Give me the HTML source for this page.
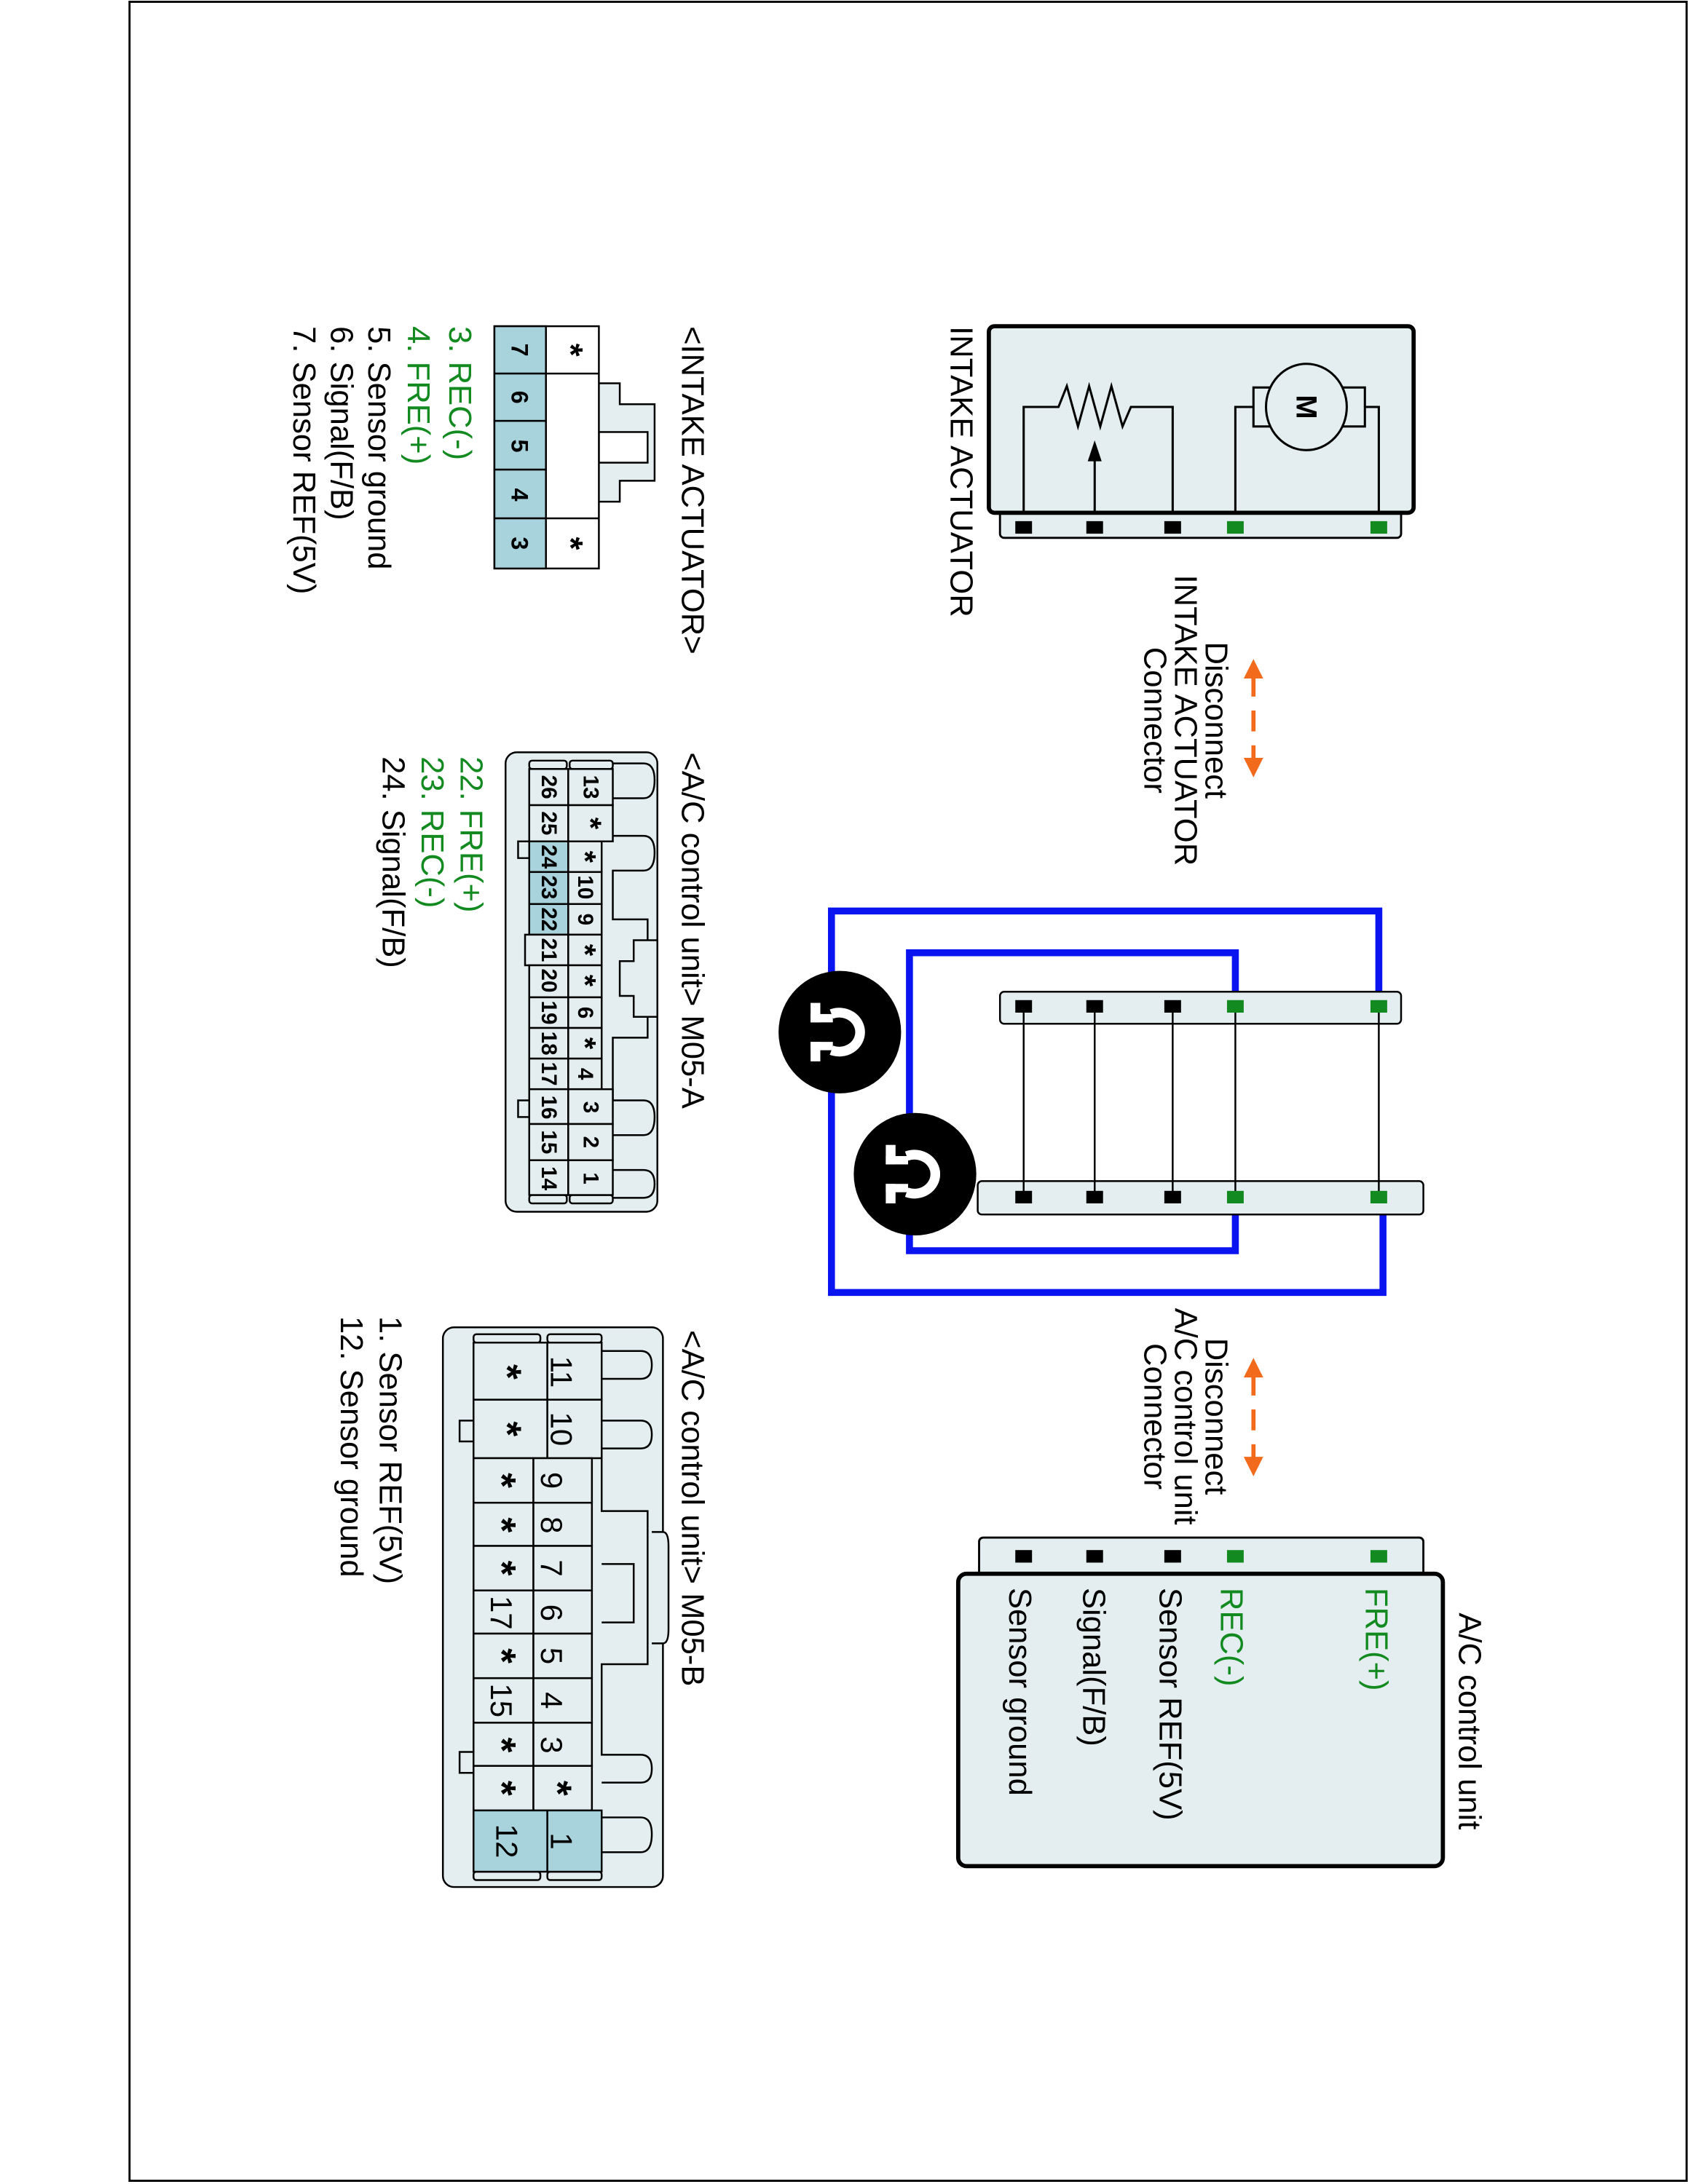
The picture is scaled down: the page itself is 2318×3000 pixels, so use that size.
<!DOCTYPE html>
<html><head><meta charset="utf-8"><style>
html,body{margin:0;padding:0;background:#fff;}
svg{display:block;}
text{font-family:"Liberation Sans",sans-serif;}
</style></head><body>
<svg width="2318" height="3000" viewBox="0 0 1212 1568" xmlns="http://www.w3.org/2000/svg">
<rect x="0" y="0" width="1212" height="1568" fill="#fff"/>
<rect x="93" y="1" width="1118" height="1565" fill="none" stroke="#000" stroke-width="1.5"/>

<!-- INTAKE ACTUATOR box -->
<rect x="718" y="366" width="288" height="20" rx="3" fill="#e4eef0" stroke="#000" stroke-width="1.5"/>
<rect x="710" y="234" width="305" height="134" rx="4" fill="#e4eef0" stroke="#000" stroke-width="3"/>
<g fill="none" stroke="#000" stroke-width="1.6">
<polyline points="735,368 735,292 760,292 766,277 774,306 782,277 790,306 798,277 806,306 812,292 842,292 842,368"/>
<line x1="786" y1="368" x2="786" y2="325"/>
<polyline points="887,368 887,292 900,292"/>
<polyline points="990,368 990,292 980,292"/>
<rect x="900" y="278" width="80" height="28" fill="#e4eef0"/>
<ellipse cx="938" cy="292" rx="29" ry="31" fill="#e4eef0"/>
</g>
<polygon points="786,316 781,331 791,331" fill="#000"/>
<text transform="translate(938,292) rotate(90)" text-anchor="middle" dominant-baseline="central" font-size="21" font-weight="bold">M</text>
<g>
<rect x="729" y="374" width="12" height="9" fill="#000"/>
<rect x="780" y="374" width="12" height="9" fill="#000"/>
<rect x="836" y="374" width="12" height="9" fill="#000"/>
<rect x="881" y="374" width="12" height="9" fill="#128a20"/>
<rect x="984" y="374" width="12" height="9" fill="#128a20"/>
</g>
<text transform="translate(690,234) rotate(90)" dominant-baseline="central" font-size="22.8">INTAKE ACTUATOR</text>

<!-- Orange arrows -->
<g stroke="#f26a1b" stroke-width="3" fill="#f26a1b">
<line x1="900" y1="484" x2="900" y2="500"/><line x1="900" y1="510" x2="900" y2="525"/><line x1="900" y1="535" x2="900" y2="548"/>
<polygon points="900,473 893,487 907,487" stroke="none"/>
<polygon points="900,558 893,544 907,544" stroke="none"/>
<line x1="900" y1="987" x2="900" y2="1002"/><line x1="900" y1="1012" x2="900" y2="1027"/><line x1="900" y1="1037" x2="900" y2="1050"/>
<polygon points="900,975 893,989 907,989" stroke="none"/>
<polygon points="900,1060 893,1046 907,1046" stroke="none"/>
</g>
<g font-size="22.8" text-anchor="middle" dominant-baseline="central">
<text transform="translate(873,517) rotate(90)">Disconnect</text>
<text transform="translate(851,517) rotate(90)">INTAKE ACTUATOR</text>
<text transform="translate(829,517) rotate(90)">Connector</text>
<text transform="translate(873,1017) rotate(90)">Disconnect</text>
<text transform="translate(851,1017) rotate(90)">A/C control unit</text>
<text transform="translate(829,1017) rotate(90)">Connector</text>
</g>

<!-- blue loops -->
<g fill="none" stroke="#0a14f0" stroke-width="5">
<polyline points="990,723 990,654 597,654 597,928 993,928 993,860"/>
<polyline points="887,723 887,684 653,684 653,898 887,898 887,860"/>
</g>
<!-- mid connectors -->
<rect x="718" y="712" width="288" height="23" rx="3" fill="#e4eef0" stroke="#000" stroke-width="1.3"/>
<rect x="702" y="848" width="320" height="24" rx="3" fill="#e4eef0" stroke="#000" stroke-width="1.3"/>
<g stroke="#000" stroke-width="1.3">
<line x1="735" y1="723" x2="735" y2="860"/><line x1="786" y1="723" x2="786" y2="860"/><line x1="842" y1="723" x2="842" y2="860"/><line x1="887" y1="723" x2="887" y2="860"/><line x1="990" y1="723" x2="990" y2="860"/>
</g>
<g>
<rect x="729" y="718" width="12" height="9" fill="#000"/><rect x="780" y="718" width="12" height="9" fill="#000"/><rect x="836" y="718" width="12" height="9" fill="#000"/><rect x="881" y="718" width="12" height="9" fill="#128a20"/><rect x="984" y="718" width="12" height="9" fill="#128a20"/>
<rect x="729" y="855" width="12" height="9" fill="#000"/><rect x="780" y="855" width="12" height="9" fill="#000"/><rect x="836" y="855" width="12" height="9" fill="#000"/><rect x="881" y="855" width="12" height="9" fill="#128a20"/><rect x="984" y="855" width="12" height="9" fill="#128a20"/>
</g>
<!-- disconnect icons -->
<g>
<circle cx="603" cy="741" r="44" fill="#000"/>
<path d="M597,728 A15 14 0 1 1 597,754" fill="none" stroke="#fff" stroke-width="7"/>
<rect x="582" y="720" width="7" height="14" fill="#fff"/>
<rect x="582" y="748" width="7" height="14" fill="#fff"/>
<rect x="582" y="728" width="16" height="6" fill="#fff"/>
<rect x="582" y="748" width="16" height="6" fill="#fff"/>
<circle cx="657" cy="843" r="44" fill="#000"/>
<path d="M651,830 A15 14 0 1 1 651,856" fill="none" stroke="#fff" stroke-width="7"/>
<rect x="636" y="822" width="7" height="14" fill="#fff"/>
<rect x="636" y="850" width="7" height="14" fill="#fff"/>
<rect x="636" y="830" width="16" height="6" fill="#fff"/>
<rect x="636" y="850" width="16" height="6" fill="#fff"/>
</g>

<!-- A/C control unit box -->
<rect x="703" y="1104" width="319" height="28" rx="3" fill="#e4eef0" stroke="#000" stroke-width="1.5"/>
<rect x="688" y="1130" width="348" height="210" rx="6" fill="#e4eef0" stroke="#000" stroke-width="3"/>
<g>
<rect x="729" y="1113" width="12" height="9" fill="#000"/><rect x="780" y="1113" width="12" height="9" fill="#000"/><rect x="836" y="1113" width="12" height="9" fill="#000"/><rect x="881" y="1113" width="12" height="9" fill="#128a20"/><rect x="984" y="1113" width="12" height="9" fill="#128a20"/>
</g>
<g font-size="22.8" dominant-baseline="central">
<text transform="translate(1055,1158) rotate(90)">A/C control unit</text>
<text transform="translate(988,1140) rotate(90)" fill="#128a20">FRE(+)</text>
<text transform="translate(884,1140) rotate(90)" fill="#128a20">REC(-)</text>
<text transform="translate(840,1140) rotate(90)">Sensor REF(5V)</text>
<text transform="translate(785,1140) rotate(90)">Signal(F/B)</text>
<text transform="translate(732,1140) rotate(90)">Sensor ground</text>
</g>

<!-- INTAKE ACTUATOR connector -->
<text transform="translate(497,234) rotate(90)" dominant-baseline="central" font-size="22.8">&lt;INTAKE ACTUATOR&gt;</text>
<g stroke="#000" stroke-width="1.3">
<path d="M430,275 L445,275 L445,290 L470,290 L470,345 L445,345 L445,360 L430,360" fill="#e4eef0"/>
<rect x="430" y="310" width="35" height="22" fill="#fff"/>
<rect x="355" y="234" width="75" height="174" fill="#fff"/>
<rect x="355" y="234" width="37" height="34" fill="#a8d3dc"/>
<rect x="355" y="268" width="37" height="34" fill="#a8d3dc"/>
<rect x="355" y="302" width="37" height="35" fill="#a8d3dc"/>
<rect x="355" y="337" width="37" height="35" fill="#a8d3dc"/>
<rect x="355" y="372" width="37" height="36" fill="#a8d3dc"/>
<line x1="392" y1="268" x2="430" y2="268"/><line x1="392" y1="372" x2="430" y2="372"/>
</g>
<g font-size="17" font-weight="bold" text-anchor="middle" dominant-baseline="central">
<text transform="translate(373,251) rotate(90)">7</text>
<text transform="translate(373,285) rotate(90)">6</text>
<text transform="translate(373,320) rotate(90)">5</text>
<text transform="translate(373,355) rotate(90)">4</text>
<text transform="translate(373,390) rotate(90)">3</text>
<text transform="translate(410,251) rotate(90)" font-size="24">*</text>
<text transform="translate(410,390) rotate(90)" font-size="24">*</text>
</g>
<g font-size="22.8" dominant-baseline="central">
<text transform="translate(330,234) rotate(90)" fill="#128a20">3. REC(-)</text>
<text transform="translate(300,234) rotate(90)" fill="#128a20">4. FRE(+)</text>
<text transform="translate(272,234) rotate(90)">5. Sensor ground</text>
<text transform="translate(245,234) rotate(90)">6. Signal(F/B)</text>
<text transform="translate(218,234) rotate(90)">7. Sensor REF(5V)</text>
</g>

<!-- M05-A -->
<text transform="translate(497,540) rotate(90)" dominant-baseline="central" font-size="22.8">&lt;A/C control unit&gt; M05-A</text>
<g stroke="#000" stroke-width="1.3" fill="#e4eef0">
<rect x="363" y="540" width="109" height="330" rx="8"/>
<path d="M440,548 L462,548 Q470,548 470,560 Q470,573 462,573 L440,573" />
<path d="M440,600 L462,600 Q470,600 470,612 Q470,625 462,625 L440,625 L440,660 L465,660 L465,745 L440,745 L440,790 L462,790 Q470,790 470,802 Q470,815 462,815 L440,815"/>
<path d="M440,840 L462,840 Q470,840 470,850 Q470,860 462,860 L440,860"/>
<path d="M455,675 L472,675 L472,730 L455,730 L455,715 L445,715 L445,690 L455,690 Z"/>
<path d="M380,604 L372,604 L372,616 L380,616"/>
<path d="M380,790 L372,790 L372,802 L380,802"/>
<rect x="380" y="546" width="27" height="6" rx="2"/>
<rect x="409" y="546" width="31" height="6" rx="2"/>
<rect x="380" y="858" width="27" height="6" rx="2"/>
<rect x="409" y="858" width="31" height="6" rx="2"/>
</g>
<g stroke="#000" stroke-width="1.3" fill="#e4eef0">
<rect x="380" y="552" width="28" height="26"/><rect x="408" y="552" width="32" height="26"/>
<rect x="380" y="578" width="28" height="26"/><rect x="408" y="578" width="32" height="26"/>
<rect x="380" y="604" width="28" height="22" fill="#a8d3dc"/><rect x="408" y="604" width="24" height="22"/>
<rect x="380" y="626" width="28" height="23" fill="#a8d3dc"/><rect x="408" y="626" width="24" height="23"/>
<rect x="380" y="649" width="28" height="22" fill="#a8d3dc"/><rect x="408" y="649" width="24" height="22"/>
<rect x="377" y="671" width="31" height="22"/><rect x="408" y="671" width="24" height="22"/>
<rect x="380" y="693" width="28" height="23"/><rect x="408" y="693" width="24" height="23"/>
<rect x="380" y="716" width="28" height="22"/><rect x="408" y="716" width="24" height="22"/>
<rect x="380" y="738" width="28" height="22"/><rect x="408" y="738" width="24" height="22"/>
<rect x="380" y="760" width="28" height="22"/><rect x="408" y="760" width="24" height="22"/>
<rect x="380" y="782" width="28" height="25"/><rect x="408" y="782" width="32" height="25"/>
<rect x="380" y="807" width="28" height="26"/><rect x="408" y="807" width="32" height="26"/>
<rect x="380" y="833" width="28" height="25"/><rect x="408" y="833" width="32" height="25"/>
</g>
<g font-size="15.5" font-weight="bold" text-anchor="middle" dominant-baseline="central">
<text transform="translate(394,565) rotate(90)">26</text><text transform="translate(424,565) rotate(90)">13</text>
<text transform="translate(394,591) rotate(90)">25</text><text transform="translate(424,591) rotate(90)" font-size="22">*</text>
<text transform="translate(394,615) rotate(90)">24</text><text transform="translate(420,615) rotate(90)" font-size="22">*</text>
<text transform="translate(394,637) rotate(90)">23</text><text transform="translate(420,637) rotate(90)">10</text>
<text transform="translate(394,660) rotate(90)">22</text><text transform="translate(420,660) rotate(90)">9</text>
<text transform="translate(394,682) rotate(90)">21</text><text transform="translate(420,682) rotate(90)" font-size="22">*</text>
<text transform="translate(394,704) rotate(90)">20</text><text transform="translate(420,704) rotate(90)" font-size="22">*</text>
<text transform="translate(394,727) rotate(90)">19</text><text transform="translate(420,727) rotate(90)">6</text>
<text transform="translate(394,749) rotate(90)">18</text><text transform="translate(420,749) rotate(90)" font-size="22">*</text>
<text transform="translate(394,771) rotate(90)">17</text><text transform="translate(420,771) rotate(90)">4</text>
<text transform="translate(394,795) rotate(90)">16</text><text transform="translate(424,795) rotate(90)">3</text>
<text transform="translate(394,820) rotate(90)">15</text><text transform="translate(424,820) rotate(90)">2</text>
<text transform="translate(394,846) rotate(90)">14</text><text transform="translate(424,846) rotate(90)">1</text>
</g>
<g font-size="22.8" dominant-baseline="central">
<text transform="translate(338,543) rotate(90)" fill="#128a20">22. FRE(+)</text>
<text transform="translate(310,543) rotate(90)" fill="#128a20">23. REC(-)</text>
<text transform="translate(282,543) rotate(90)">24. Signal(F/B)</text>
</g>

<!-- M05-B -->
<text transform="translate(497,955) rotate(90)" dominant-baseline="central" font-size="22.8">&lt;A/C control unit&gt; M05-B</text>
<g stroke="#000" stroke-width="1.3" fill="#e4eef0">
<rect x="318" y="953" width="158" height="402" rx="8"/>
<path d="M432,970 L460,970 Q468,970 468,980 Q468,990 460,990 L432,990"/>
<path d="M432,1020 L460,1020 Q468,1020 468,1030 Q468,1040 460,1040 L432,1040 L432,1085 L465,1085 L465,1195 L432,1195 L432,1260 L460,1260 Q468,1260 468,1270 Q468,1280 460,1280 L432,1280"/>
<path d="M432,1305 L460,1305 Q468,1305 468,1317 Q468,1330 460,1330 L432,1330"/>
<path d="M468,1100 L476,1100 Q480,1100 480,1110 L480,1170 Q480,1180 476,1180 L468,1180"/>
<path d="M432,1123 L455,1123 L455,1165 L432,1165"/>
<path d="M340,1020 L330,1020 L330,1035 L340,1035"/>
<path d="M340,1258 L330,1258 L330,1273 L340,1273"/>
<rect x="340" y="958" width="48" height="6" rx="2"/>
<rect x="393" y="958" width="39" height="6" rx="2"/>
<rect x="340" y="1344" width="48" height="6" rx="2"/>
<rect x="393" y="1344" width="39" height="6" rx="2"/>
</g>
<g stroke="#000" stroke-width="1.3" fill="#e4eef0">
<rect x="340" y="964" width="53" height="41"/><rect x="393" y="964" width="39" height="41"/>
<rect x="340" y="1005" width="53" height="42"/><rect x="393" y="1005" width="39" height="42"/>
<rect x="340" y="1047" width="43" height="32"/><rect x="383" y="1047" width="42" height="32"/>
<rect x="340" y="1079" width="43" height="31"/><rect x="383" y="1079" width="42" height="31"/>
<rect x="340" y="1110" width="43" height="32"/><rect x="383" y="1110" width="42" height="32"/>
<rect x="340" y="1142" width="43" height="31"/><rect x="383" y="1142" width="42" height="31"/>
<rect x="340" y="1173" width="43" height="32"/><rect x="383" y="1173" width="42" height="32"/>
<rect x="340" y="1205" width="43" height="32"/><rect x="383" y="1205" width="42" height="32"/>
<rect x="340" y="1237" width="43" height="31"/><rect x="383" y="1237" width="42" height="31"/>
<rect x="340" y="1268" width="43" height="32"/><rect x="383" y="1268" width="42" height="32"/>
<rect x="340" y="1300" width="53" height="44" fill="#a8d3dc"/><rect x="393" y="1300" width="39" height="44" fill="#a8d3dc"/>
</g>
<g font-size="22" text-anchor="middle" dominant-baseline="central">
<text transform="translate(403,985) rotate(90)">11</text><text transform="translate(364,985) rotate(90)" font-size="28" font-weight="bold">*</text>
<text transform="translate(403,1026) rotate(90)">10</text><text transform="translate(364,1026) rotate(90)" font-size="28" font-weight="bold">*</text>
<text transform="translate(396,1063) rotate(90)">9</text><text transform="translate(360,1063) rotate(90)" font-size="28" font-weight="bold">*</text>
<text transform="translate(396,1095) rotate(90)">8</text><text transform="translate(360,1095) rotate(90)" font-size="28" font-weight="bold">*</text>
<text transform="translate(396,1126) rotate(90)">7</text><text transform="translate(360,1126) rotate(90)" font-size="28" font-weight="bold">*</text>
<text transform="translate(396,1158) rotate(90)">6</text><text transform="translate(360,1158) rotate(90)">17</text>
<text transform="translate(396,1189) rotate(90)">5</text><text transform="translate(360,1189) rotate(90)" font-size="28" font-weight="bold">*</text>
<text transform="translate(396,1221) rotate(90)">4</text><text transform="translate(360,1221) rotate(90)">15</text>
<text transform="translate(396,1253) rotate(90)">3</text><text transform="translate(360,1253) rotate(90)" font-size="28" font-weight="bold">*</text>
<text transform="translate(400,1284) rotate(90)" font-size="28" font-weight="bold">*</text><text transform="translate(360,1284) rotate(90)" font-size="28" font-weight="bold">*</text>
<text transform="translate(403,1322) rotate(90)">1</text><text transform="translate(364,1322) rotate(90)">12</text>
</g>
<g font-size="22.8" dominant-baseline="central">
<text transform="translate(280,945) rotate(90)">1. Sensor REF(5V)</text>
<text transform="translate(252,945) rotate(90)">12. Sensor ground</text>
</g>
</svg>
</body></html>
